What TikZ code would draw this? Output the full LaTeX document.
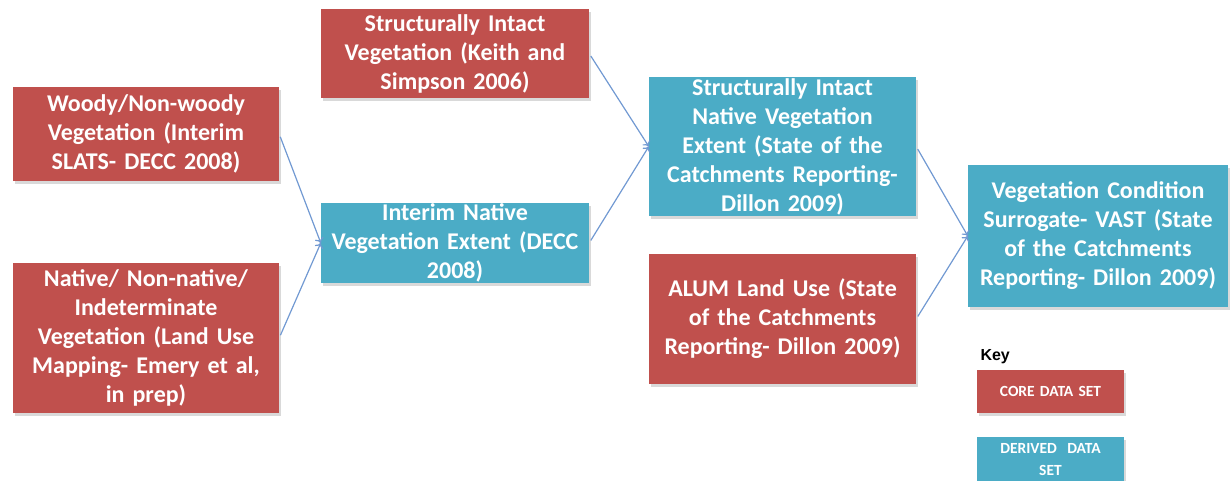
\documentclass[tikz,border=0pt]{standalone}
\usepackage{fontspec}
\setmainfont{Carlito}
\newfontfamily\keyfont{Liberation Sans}
\usetikzlibrary{arrows.meta,shadows}
\definecolor{corered}{HTML}{C0504D}
\definecolor{derivedblue}{HTML}{4BACC6}
\definecolor{linkblue}{HTML}{7199D2}
\tikzset{
  dataset/.style={inner sep=0pt, text=white, align=center,
    font=\fontsize{24}{29}\selectfont\bfseries,
    drop shadow={shadow xshift=1.5pt, shadow yshift=-3pt, fill=black!15, opacity=1}},
  core/.style={dataset, fill=corered},
  derived/.style={dataset, fill=derivedblue},
  keybox/.style={font=\fontsize{15.5}{22}\selectfont\bfseries,
    minimum width=147pt, text width=140pt},
  link/.style={color=linkblue, line width=1.2pt, shorten <=3pt,
    -{To[length=5pt,width=9pt]}}
}
\begin{document}
\begin{tikzpicture}[x=1pt,y=-1pt]
  \useasboundingbox (0,0) rectangle (1231,481);
  \node[core, minimum width=266pt, minimum height=94pt, text width=260pt] (woody) at (146,134)
    {Woody/Non-woody\\Vegetation (Interim\\SLATS- DECC 2008)};
  \node[core, minimum width=266pt, minimum height=150pt, text width=260pt] (native) at (146,338)
    {Native/ Non-native/\\Indeterminate\\Vegetation (Land Use\\Mapping- Emery et al,\\in prep)};
  \node[core, minimum width=268pt, minimum height=89pt, text width=262pt] (keith) at (455,53.5)
    {Structurally Intact\\Vegetation (Keith and\\Simpson 2006)};
  \node[derived, minimum width=268pt, minimum height=80pt, text width=262pt] (interim) at (455,243)
    {Interim Native\\Vegetation Extent (DECC\\2008)};
  \node[derived, minimum width=267pt, minimum height=139pt, text width=261pt] (intact) at (782.5,146.5)
    {Structurally Intact\\Native Vegetation\\Extent (State of the\\Catchments Reporting-\\Dillon 2009)};
  \node[core, minimum width=267pt, minimum height=130pt, text width=261pt] (alum) at (782.5,319)
    {ALUM Land Use (State\\of the Catchments\\Reporting- Dillon 2009)};
  \node[derived, minimum width=260pt, minimum height=142pt, text width=256pt] (vast) at (1098,236)
    {Vegetation Condition\\Surrogate- VAST (State\\of the Catchments\\Reporting- Dillon 2009)};

  \draw[link] (woody.east) -- (interim.west);
  \draw[link] (native.east) -- (interim.west);
  \draw[link] (keith.east) -- (intact.west);
  \draw[link] (interim.east) -- (intact.west);
  \draw[link] (intact.east) -- (vast.west);
  \draw[link] (alum.east) -- (vast.west);

  \node[anchor=west, font=\keyfont\bfseries\fontsize{16}{18}\selectfont] (key) at (977,357) {Key};
  \node[core, keybox, minimum height=43pt] (corekey) at (1050.5,391.5) {CORE DATA SET};
  \node[derived, keybox, minimum height=46pt] (derivedkey) at (1050.5,460) {DERIVED\ \ DATA\\SET};
\end{tikzpicture}
\end{document}
